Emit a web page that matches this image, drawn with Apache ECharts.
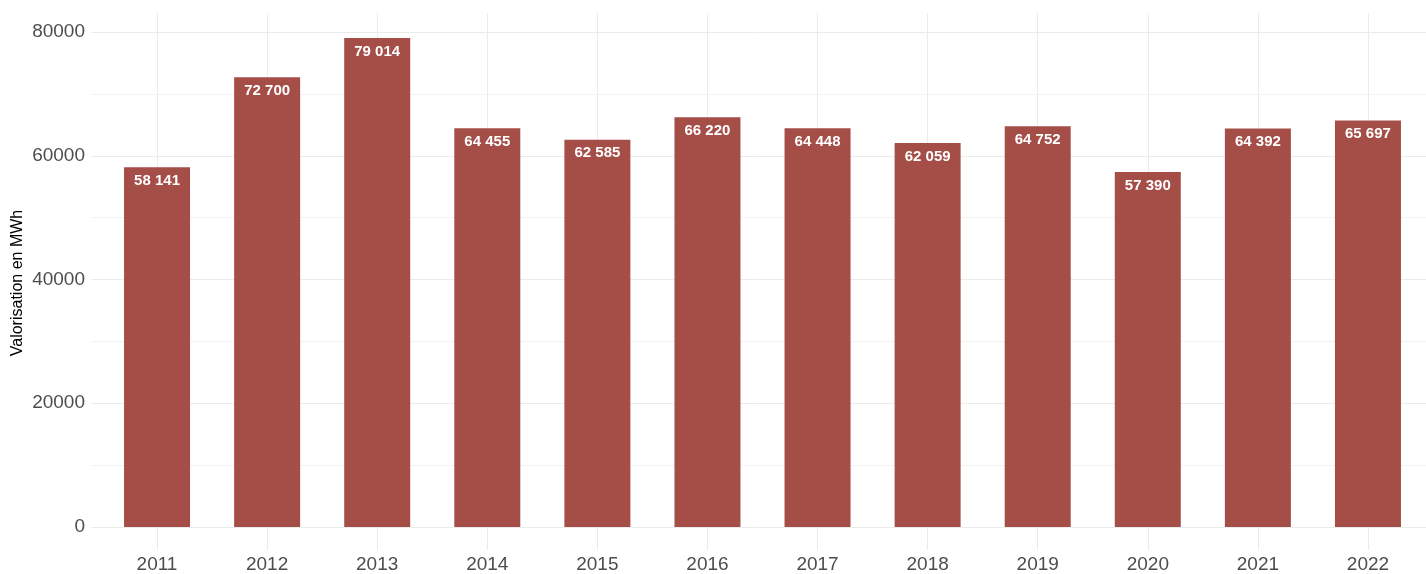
<!DOCTYPE html>
<html>
<head>
<meta charset="utf-8">
<script src="https://cdn.jsdelivr.net/npm/echarts@6/dist/echarts.min.js"></script>
<style>
html,body{margin:0;padding:0;background:#fff;}
#chart{width:1426px;height:574px;}
</style>
</head>
<body>
<div id="chart"></div>
<script>
const years = ['2011','2012','2013','2014','2015','2016','2017','2018','2019','2020','2021','2022'];
const values = [58141, 72700, 79014, 64455, 62585, 66220, 64448, 62059, 64752, 57390, 64392, 65697];
const yTicks = [0, 20000, 40000, 60000, 80000];
const yTitle = 'Valorisation en MWh';

function fmt(v) {
  return String(v).replace(/\B(?=(\d{3})+(?!\d))/g, ' ');
}

const chart = echarts.init(document.getElementById('chart'), null, {renderer: 'canvas'});
const font = 'Liberation Sans, Arial, Helvetica, sans-serif';
chart.setOption({
  animation: false,
  backgroundColor: '#ffffff',
  textStyle: {fontFamily: font},
  grid: [
    {left: 157, right: 58, top: 13, bottom: 24, outerBoundsMode: 'none', containLabel: false},
    {left: 91, right: 0, top: 32, bottom: 47, outerBoundsMode: 'none', containLabel: false},
    {left: 102, right: 3, top: 32, bottom: 47, outerBoundsMode: 'none', containLabel: false}
  ],
  xAxis: [
    {
      gridIndex: 0, type: 'category', data: years, boundaryGap: false,
      axisLine: {show: false}, axisTick: {show: false},
      axisLabel: {color: '#4D4D4D', fontSize: 19, margin: 5, fontFamily: font},
      splitLine: {show: true, lineStyle: {color: '#EBEBEB', width: 1}}
    },
    {gridIndex: 1, type: 'value', show: false, min: 0, max: 1},
    {gridIndex: 2, type: 'category', data: years, show: false}
  ],
  yAxis: [
    {gridIndex: 0, type: 'value', show: false, min: 0, max: 1, splitLine: {show: false}},
    {
      gridIndex: 1, type: 'value', min: 0, max: 80000, interval: 10000,
      axisLine: {show: false}, axisTick: {show: false},
      axisLabel: {
        color: '#4D4D4D', fontSize: 19, margin: 6, fontFamily: font,
        padding: [3, 0, 0, 0],
        formatter: v => yTicks.indexOf(v) >= 0 ? String(v) : ''
      },
      splitLine: {show: true, lineStyle: {color: ['#EBEBEB', '#F2F2F2'], width: 1}},
      name: yTitle, nameLocation: 'middle', nameGap: 65, nameMoveOverlap: false,
      nameTextStyle: {color: '#000000', fontSize: 16, fontFamily: font, padding: [0, 7, 0, 0]}
    },
    {gridIndex: 2, type: 'value', min: 0, max: 80000, show: false, splitLine: {show: false}}
  ],
  series: [{
    type: 'bar',
    xAxisIndex: 2, yAxisIndex: 2,
    data: values,
    barWidth: 66,
    itemStyle: {color: '#A54E48'},
    label: {
      show: true, position: 'insideTop', distance: 6,
      color: '#ffffff', fontWeight: 'bold', fontSize: 15, fontFamily: font,
      formatter: p => fmt(p.value)
    }
  }]
});
</script>
</body>
</html>
